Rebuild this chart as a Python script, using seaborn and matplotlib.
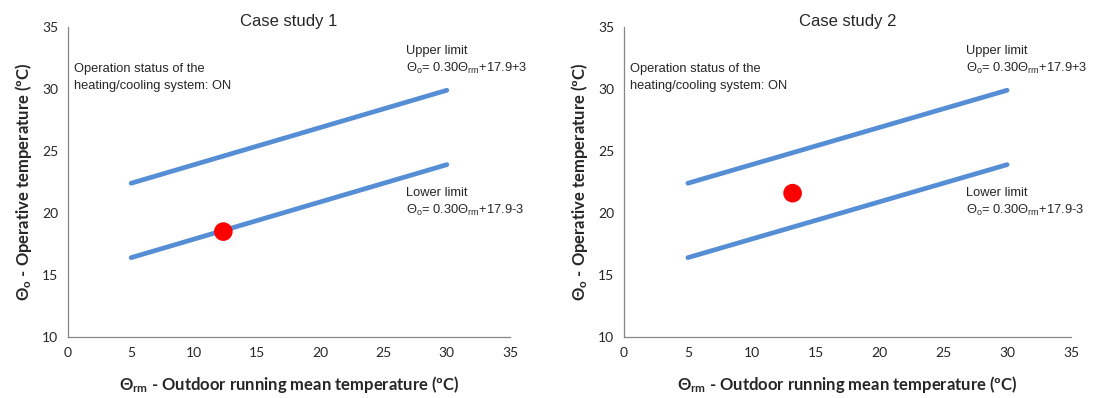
import matplotlib
matplotlib.use("Agg")
import matplotlib.pyplot as plt
import seaborn as sns
import pandas as pd

# ---- data ----
theta_rm = [5, 6, 7, 8, 9, 10, 11, 12, 13, 14, 15, 16, 17, 18, 19, 20,
            21, 22, 23, 24, 25, 26, 27, 28, 29, 30]
upper_limit = [22.4, 22.7, 23.0, 23.3, 23.6, 23.9, 24.2, 24.5, 24.8, 25.1,
               25.4, 25.7, 26.0, 26.3, 26.6, 26.9, 27.2, 27.5, 27.8, 28.1,
               28.4, 28.7, 29.0, 29.3, 29.6, 29.9]
lower_limit = [16.4, 16.7, 17.0, 17.3, 17.6, 17.9, 18.2, 18.5, 18.8, 19.1,
               19.4, 19.7, 20.0, 20.3, 20.6, 20.9, 21.2, 21.5, 21.8, 22.1,
               22.4, 22.7, 23.0, 23.3, 23.6, 23.9]
case_titles = ["Case study 1", "Case study 2"]
case_x = [12.3, 13.2]
case_y = [18.5, 21.6]
x_ticks = [0, 5, 10, 15, 20, 25, 30, 35]
y_ticks = [10, 15, 20, 25, 30, 35]

sns.set_style("white")
plt.rcParams["font.family"] = ["Liberation Sans", "DejaVu Sans"]
plt.rcParams["mathtext.fontset"] = "custom"
plt.rcParams["mathtext.rm"] = "Liberation Sans"
plt.rcParams["mathtext.it"] = "Liberation Sans:italic"
plt.rcParams["mathtext.bf"] = "Lato:bold"

fig = plt.figure(figsize=(11.02, 3.98), dpi=100)
ax_positions = [[68 / 1102, 61 / 398, 442 / 1102, 310 / 398],
                [624 / 1102, 61 / 398, 447 / 1102, 310 / 398]]

line_color = "#558ED5"
spine_color = "#868686"

df = pd.DataFrame({"x": theta_rm, "upper": upper_limit, "lower": lower_limit})

for i, pos in enumerate(ax_positions):
    ax = fig.add_axes(pos)
    sns.lineplot(data=df, x="x", y="upper", ax=ax, color=line_color, lw=3.4)
    sns.lineplot(data=df, x="x", y="lower", ax=ax, color=line_color, lw=3.4)
    sns.scatterplot(x=[case_x[i]], y=[case_y[i]], ax=ax, color="#FF0000",
                    s=180, edgecolor="none", zorder=5)
    ax.set_xlim(0, 35)
    ax.set_ylim(10, 35)
    ax.set_xticks(x_ticks)
    ax.set_yticks(y_ticks)
    for s in ["top", "right"]:
        ax.spines[s].set_visible(False)
    for s in ["left", "bottom"]:
        ax.spines[s].set_color(spine_color)
        ax.spines[s].set_linewidth(0.9)
    ax.tick_params(axis="both", direction="out", length=4, width=0.9,
                   color=spine_color, labelsize=10, labelcolor="#262626", pad=3)
    for lab in ax.get_xticklabels() + ax.get_yticklabels():
        lab.set_fontfamily("Lato")
    ax.set_xlabel(r"$\mathbf{\Theta_{rm}}$ - Outdoor running mean temperature (ºC)",
                  fontsize=12, fontweight="bold", fontfamily="Lato", labelpad=11)
    ax.set_ylabel(r"$\mathbf{\Theta_{o}}$ - Operative temperature (ºC)",
                  fontsize=12, fontweight="bold", fontfamily="Lato", labelpad=6)
    ax.set_title(case_titles[i], fontsize=12, pad=1)
    ax.text(0.5, 30.95, "Operation status of the\nheating/cooling system: ON",
            fontsize=9.3, va="center", ha="left", linespacing=1.55)
    ax.text(26.8, 32.3, "Upper limit\n" + r"$\Theta_\mathrm{o}$= 0.30$\Theta_\mathrm{rm}$+17.9+3",
            fontsize=9.3, va="center", ha="left", linespacing=1.4)
    ax.text(26.8, 20.85, "Lower limit\n" + r"$\Theta_\mathrm{o}$= 0.30$\Theta_\mathrm{rm}$+17.9-3",
            fontsize=9.3, va="center", ha="left", linespacing=1.4)

fig.savefig("out.png", dpi=100)
